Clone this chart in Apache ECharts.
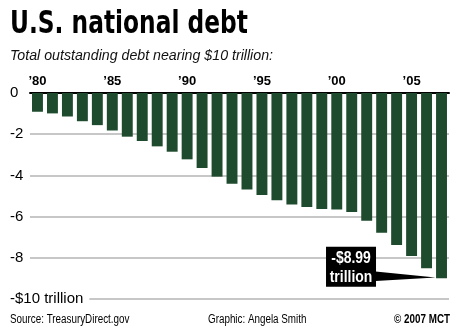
<!DOCTYPE html>
<html>
<head>
<meta charset="utf-8">
<script src="https://cdn.jsdelivr.net/npm/echarts@6/dist/echarts.min.js"></script>
<style>
html,body{margin:0;padding:0;background:#fff;}
#c{width:460px;height:333px;}
</style>
</head>
<body>
<div id="c"></div>
<script>
const years = ["1980","1981","1982","1983","1984","1985","1986","1987","1988","1989","1990","1991","1992","1993","1994","1995","1996","1997","1998","1999","2000","2001","2002","2003","2004","2005","2006","2007"];
const debt = [-0.91,-0.99,-1.14,-1.37,-1.56,-1.82,-2.12,-2.33,-2.59,-2.85,-3.22,-3.64,-4.06,-4.40,-4.68,-4.95,-5.21,-5.41,-5.53,-5.63,-5.66,-5.78,-6.20,-6.78,-7.38,-7.91,-8.51,-8.99];
const labeledYears = ["1980","1985","1990","1995","2000","2005"];
const xTickLabels = ["\u201980","\u201985","\u201990","\u201995","\u201900","\u201905"];
const yTicks = [0,-2,-4,-6,-8,-10];
const yTickLabels = ["0","-2","-4","-6","-8","-$10 trillion"];
const titleText = "U.S. national debt";
const subtitleText = "Total outstanding debt nearing $10 trillion:";
const sourceText = "Source: TreasuryDirect.gov";
const creditText = "Graphic: Angela Smith";
const copyrightText = "\u00a9 2007 MCT";
const calloutIndex = 27;
const calloutLines = ["-$8.99", "trillion"];

const chart = echarts.init(document.getElementById('c'), null, {renderer: 'canvas'});
const cond = "'DejaVu Sans Condensed', 'DejaVu Sans', sans-serif";
const sans = "'Liberation Sans', Arial, sans-serif";

const yAxisBase = {
  type: 'value', min: -10, max: 0, interval: 2, position: 'left',
  axisLine: {show: false}, axisTick: {show: false}
};

chart.setOption({
  animation: false,
  backgroundColor: '#fff',
  grid: {left: 30, right: 11, top: 93, bottom: 34},
  xAxis: {
    type: 'category', position: 'top', data: years,
    axisLine: {show: true, onZero: false, lineStyle: {color: '#000', width: 2}},
    axisTick: {show: false},
    axisLabel: {
      interval: 0, margin: 5, color: '#000', fontWeight: 'bold', fontSize: 13, fontFamily: sans,
      formatter: v => { const i = labeledYears.indexOf(v); return i >= 0 ? xTickLabels[i] : ''; }
    },
    splitLine: {show: false}
  },
  yAxis: [
    Object.assign({}, yAxisBase, {
      z: 0,
      axisLabel: {show: false},
      splitLine: {show: true, lineStyle: {color: '#b4b4b4', width: 1.5}}
    }),
    Object.assign({}, yAxisBase, {
      z: 5,
      splitLine: {show: false},
      axisLabel: {
        align: 'left', margin: 20, color: '#000', fontSize: 15, fontFamily: sans,
        backgroundColor: '#fff', padding: [2, 6, 2, 0],
        formatter: v => { const i = yTicks.indexOf(Math.round(v)); return i >= 0 ? yTickLabels[i] : ''; }
      }
    })
  ],
  series: [{
    type: 'bar', data: debt, yAxisIndex: 0, z: 2,
    barCategoryGap: '27%',
    itemStyle: {color: '#1e4a2d'}
  }]
});

const pt = chart.convertToPixel({xAxisIndex: 0, yAxisIndex: 0}, [calloutIndex, debt[calloutIndex]]);
const px = pt[0], py = pt[1];

chart.setOption({
  graphic: [
    {type: 'text', x: 10, y: 25, scaleX: 0.81, style: {text: titleText, font: "bold 32px " + cond, fill: '#000', verticalAlign: 'middle'}},
    {type: 'text', x: 10, y: 56, scaleX: 0.946, style: {text: subtitleText, font: "italic 15px " + sans, fill: '#111', verticalAlign: 'middle'}},
    {type: 'text', x: 10, y: 320, scaleX: 0.82, style: {text: sourceText, font: "12px " + sans, fill: '#000', verticalAlign: 'middle'}},
    {type: 'text', x: 208, y: 320, scaleX: 0.82, style: {text: creditText, font: "12px " + sans, fill: '#000', verticalAlign: 'middle'}},
    {type: 'text', x: 450, y: 320, scaleX: 0.82, style: {text: copyrightText, font: "bold 12px " + sans, fill: '#000', verticalAlign: 'middle', align: 'right'}},
    {type: 'polygon', z: 10, shape: {points: [[px - 66, py - 6.6], [px - 6, py - 0.6], [px - 66, py + 2.7]]}, style: {fill: '#000'}},
    {type: 'rect', z: 10, shape: {x: px - 115.5, y: py - 31.5, width: 50, height: 40}, style: {fill: '#000'}},
    {type: 'text', z: 11, x: px - 90.5, y: py - 20, scaleX: 0.82, style: {text: calloutLines[0], font: "bold 17px " + sans, fill: '#fff', align: 'center', verticalAlign: 'middle'}},
    {type: 'text', z: 11, x: px - 90.5, y: py - 0.5, scaleX: 0.82, style: {text: calloutLines[1], font: "bold 17px " + sans, fill: '#fff', align: 'center', verticalAlign: 'middle'}}
  ]
});
</script>
</body>
</html>
